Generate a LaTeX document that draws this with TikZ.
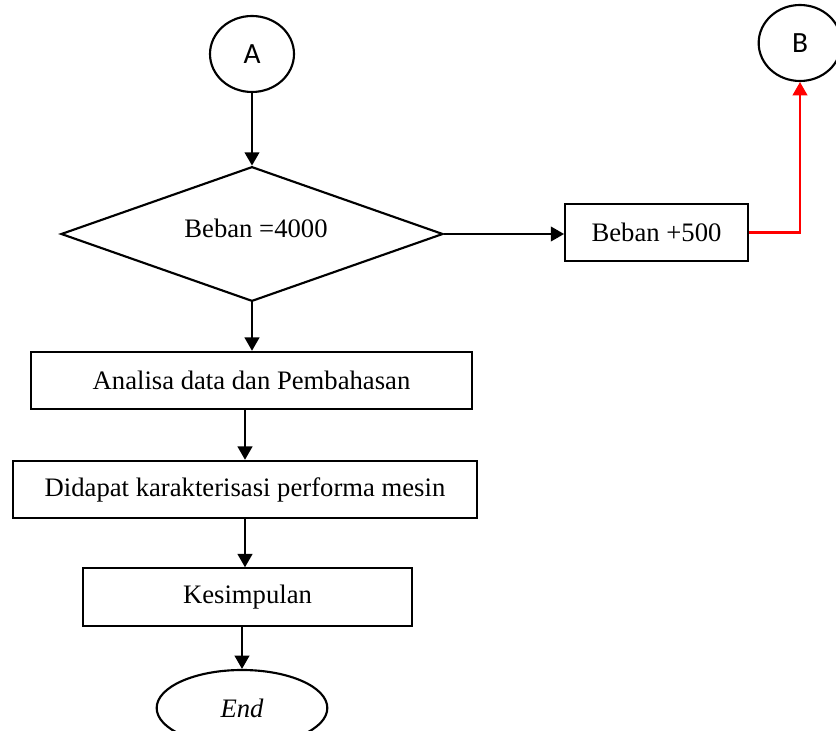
\documentclass[tikz,border=0pt]{standalone}
\usepackage{fontspec}
\setmainfont{Liberation Serif}
\newfontfamily\lblfont{Carlito}
\usepackage{tikz}
\usetikzlibrary{shapes.geometric,arrows.meta}

\begin{document}
\begin{tikzpicture}[x=0.75pt,y=-0.75pt,line width=1.6pt,
  font=\fontsize{20}{24}\selectfont,
  box/.style={draw,rectangle,minimum height=43pt,inner sep=0pt},
  conn/.style={draw,ellipse,font=\lblfont\fontsize{22}{26}\selectfont,inner sep=0pt},
  flow/.style={-{Triangle[length=10pt,width=11pt]}}]
\useasboundingbox (0,0) rectangle (836,731);
\node[conn,minimum width=63pt,minimum height=57pt](A) at (252,54){A};
\node[draw,diamond,inner sep=0pt,minimum width=286.5pt,minimum height=101pt](dia) at (252,234){};
\node at (256,228){Beban =4000};
\node[box,minimum width=137pt](tambah) at (656.5,232.5){Beban +500};
\node[conn,minimum width=62pt,minimum height=57pt](B) at (800,43){B};
\node[box,minimum width=331pt](ana) at (251.5,380.5){Analisa data dan Pembahasan};
\node[box,minimum width=348pt](did) at (245,489.5){Didapat karakterisasi performa mesin};
\node[box,minimum width=247pt](kes) at (247.5,597){Kesimpulan};
\node[draw,ellipse,inner sep=0pt,minimum width=128pt,minimum height=57pt](end) at (242,708){\itshape End};
% arrows
\draw[flow] (A.south) -- (A.south |- dia.north);
\draw[flow] (dia.east) -- (dia.east -| tambah.west);
\draw[flow,red] (tambah.east) -| (B.south);
\draw[flow] (dia.south) -- (dia.south |- ana.north);
\draw[flow] (ana.south -| did.north) -- (did.north);
\draw[flow] (did.south) -- (did.south |- kes.north);
\draw[flow] (kes.south -| end.north) -- (end.north);
\end{tikzpicture}
\end{document}
